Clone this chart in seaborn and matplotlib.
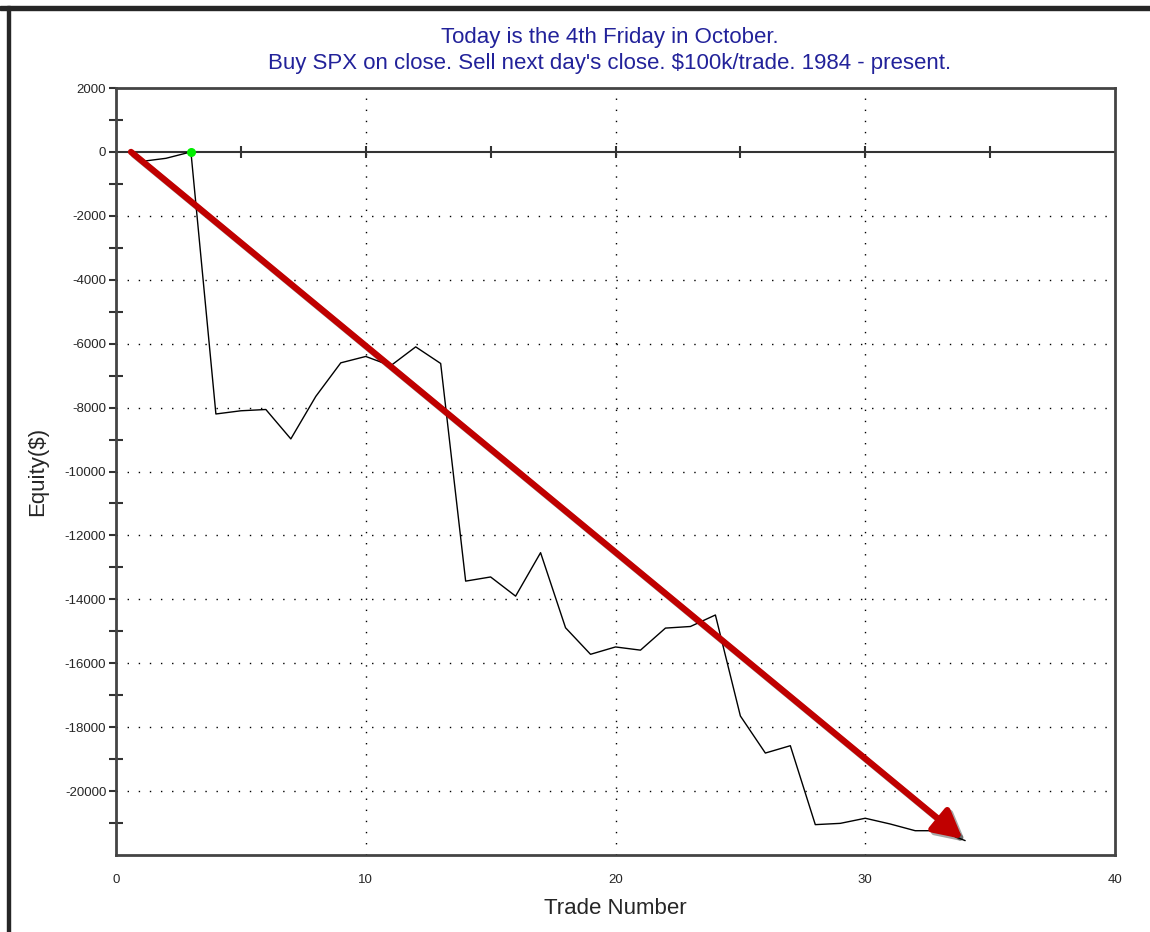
import numpy as np
import pandas as pd
import seaborn as sns
import matplotlib.pyplot as plt
import matplotlib.patheffects as pe
from matplotlib.patches import Rectangle

# equity per trade
trades = list(range(1, 35))
equity = [-300, -200, 0, -8200, -8100, -8060, -8980, -7650, -6600, -6400,
          -6690, -6100, -6620, -13430, -13300, -13900, -12540, -14890, -15720, -15490,
          -15590, -14900, -14850, -14490, -17650, -18810, -18580, -21050, -21010, -20850,
          -21030, -21240, -21240, -21550]
peak_trade = 3
peak_value = 0
arrow_start = (0.6, 0)
arrow_end = (33.9, -21500)

title_1 = 'Today is the 4th Friday in October.'
title_2 = "Buy SPX on close. Sell next day's close. $100k/trade. 1984 - present."

df = pd.DataFrame({'Trade Number': trades, 'Equity': equity})

sns.set_style('white')
plt.rcParams['font.family'] = ['Liberation Sans', 'DejaVu Sans']
plt.rcParams['axes.unicode_minus'] = False

fig = plt.figure(figsize=(11.5, 9.32), dpi=100)
ax = fig.add_axes([116 / 1150, 1 - 855 / 932, 999 / 1150, 767 / 932])

# dark window frame (top and left)
fig.patches.append(Rectangle((0, 1 - 10 / 932), 1, 4 / 932, transform=fig.transFigure,
                             color='#262626', zorder=0))
fig.patches.append(Rectangle((7 / 1150, 0), 3 / 1150, 1 - 6 / 932, transform=fig.transFigure,
                             color='#262626', zorder=0))

ax.set_xlim(0, 40)
ax.set_ylim(-22000, 2000)

# grid
for gx in [10, 20, 30]:
    ax.axvline(gx, color='black', lw=1, ls=(0, (1, 7)), zorder=1)
for gy in np.arange(-20000, -1, 2000):
    ax.axhline(gy, color='black', lw=1, ls=(0, (1, 7)), zorder=1)

# zero line with tick marks
ax.axhline(0, color='#333333', lw=1.5, zorder=2)
ax.plot(np.arange(5, 40, 5), np.zeros(7), ls='none', marker='|', ms=8, mew=1.5,
        color='#333333', zorder=2)

sns.lineplot(data=df, x='Trade Number', y='Equity', color='black', lw=1, ax=ax, zorder=3)
ax.scatter([peak_trade], [peak_value], s=30, color='#00ee00', zorder=4)

ax.annotate('', xy=arrow_end, xytext=arrow_start,
            arrowprops=dict(arrowstyle='-|>,head_length=1.7,head_width=0.9',
                            color='#c00000', lw=4.5, shrinkA=0, shrinkB=0,
                            path_effects=[pe.SimpleLineShadow(offset=(2, -2), alpha=0.35),
                                          pe.Normal()]),
            zorder=5)

for s in ax.spines.values():
    s.set_color('#444444')
    s.set_linewidth(2)

ax.set_yticks(np.arange(-20000, 2001, 2000))
ax.set_yticks(np.arange(-21000, 2000, 2000), minor=True)
ax.set_xticks([0, 10, 20, 30, 40])
ax.tick_params(axis='y', which='major', direction='out', length=5, width=1.5,
               color='#333333', labelsize=9.5, pad=2, left=True)
ax.tick_params(axis='y', which='minor', direction='inout', length=10, width=1.5,
               color='#333333', left=True)
ax.tick_params(axis='x', which='major', length=0, labelsize=9.5, pad=14)

ax.set_xlabel('Trade Number', fontsize=16, labelpad=8)
ax.set_ylabel('Equity($)', fontsize=16, labelpad=12)

fig.text(0.53, 1 - 37 / 932, title_1, ha='center', va='center', fontsize=16,
         color='#22229a')
fig.text(0.53, 1 - 64 / 932, title_2, ha='center', va='center', fontsize=16,
         color='#22229a')

fig.savefig('out.png', dpi=100, facecolor='white')
